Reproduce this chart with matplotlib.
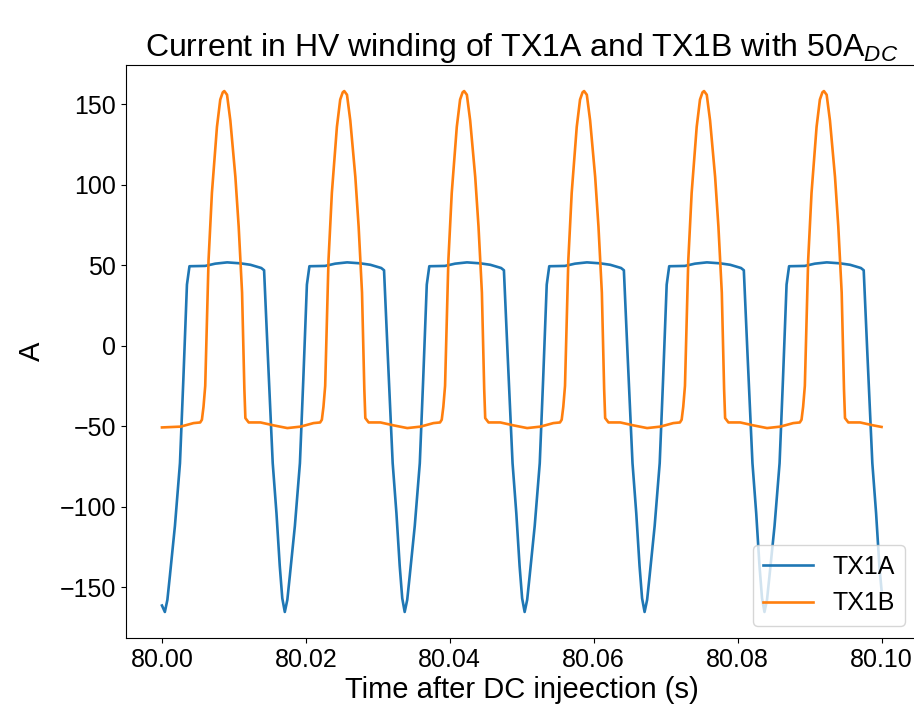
import matplotlib
matplotlib.use("Agg")
import matplotlib.pyplot as plt
import numpy as np

plt.rcParams["font.family"] = ["Liberation Sans", "DejaVu Sans"]
plt.rcParams["mathtext.fontset"] = "custom"
plt.rcParams["mathtext.rm"] = "Liberation Sans"
plt.rcParams["mathtext.it"] = "Liberation Sans:italic"

# time after 80 s, in ms
tx1a_ms = [0.00,
           0.40, 0.75, 1.10, 1.80, 2.50, 2.97, 3.19, 3.47, 3.82, 6.00, 7.40,
           9.06, 10.90, 12.30, 13.80, 14.19, 14.70, 15.39, 15.91, 16.37, 16.72,
           17.07, 17.42, 17.77, 18.47, 19.17, 19.64, 19.86, 20.14, 20.49, 22.67,
           24.07, 25.73, 27.57, 28.97, 30.47, 30.86, 31.37, 32.06, 32.58, 33.04,
           33.39,
           33.73, 34.08, 34.43, 35.13, 35.83, 36.30, 36.52, 36.80, 37.15, 39.33,
           40.73, 42.39, 44.23, 45.63, 47.13, 47.52, 48.03, 48.72, 49.24, 49.70,
           50.05,
           50.40, 50.75, 51.10, 51.80, 52.50, 52.97, 53.19, 53.47, 53.82, 56.00,
           57.40, 59.06, 60.90, 62.30, 63.80, 64.19, 64.70, 65.39, 65.91, 66.37,
           66.72,
           67.07, 67.42, 67.77, 68.47, 69.17, 69.64, 69.86, 70.14, 70.49, 72.67,
           74.07, 75.73, 77.57, 78.97, 80.47, 80.86, 81.37, 82.06, 82.58, 83.04,
           83.39,
           83.73, 84.08, 84.43, 85.13, 85.83, 86.30, 86.52, 86.80, 87.15, 89.33,
           90.73, 92.39, 94.23, 95.63, 97.13, 97.52, 98.03, 98.72, 99.24, 99.70,
           100.00]
tx1a_amp = [-161.5,
            -165.5, -158, -143, -112, -73, -21, 5, 38, 49.4, 49.6, 51.0,
            51.8, 51.2, 50.3, 48.3, 46.9, -5, -73, -104, -137, -157,
            -165.5, -158, -143, -112, -73, -21, 5, 38, 49.4, 49.6,
            51.0, 51.8, 51.2, 50.3, 48.3, 46.9, -5, -73, -104, -137,
            -157,
            -165.5, -158, -143, -112, -73, -21, 5, 38, 49.4, 49.6,
            51.0, 51.8, 51.2, 50.3, 48.3, 46.9, -5, -73, -104, -137,
            -157,
            -165.5, -158, -143, -112, -73, -21, 5, 38, 49.4, 49.6,
            51.0, 51.8, 51.2, 50.3, 48.3, 46.9, -5, -73, -104, -137,
            -157,
            -165.5, -158, -143, -112, -73, -21, 5, 38, 49.4, 49.6,
            51.0, 51.8, 51.2, 50.3, 48.3, 46.9, -5, -73, -104, -137,
            -157,
            -165.5, -158, -143, -112, -73, -21, 5, 38, 49.4, 49.6,
            51.0, 51.8, 51.2, 50.3, 48.3, 46.9, -5, -73, -104, -137,
            -152]

tx1b_ms = [0.00, 2.59, 4.39,
           5.31, 5.55, 5.77, 6.01, 6.47, 6.94, 7.64, 8.10, 8.45, 8.66, 9.04,
           9.50, 10.20, 10.66, 11.13, 11.45, 11.59, 12.05, 13.69, 15.50, 17.42,
           19.26, 21.06,
           21.98, 22.22, 22.44, 22.68, 23.14, 23.61, 24.31, 24.77, 25.12, 25.33,
           25.71, 26.17, 26.87, 27.33, 27.80, 28.12, 28.26, 28.72, 30.36, 32.17,
           34.09, 35.93, 37.73,
           38.64, 38.88, 39.10, 39.34, 39.80, 40.27, 40.97, 41.43, 41.78, 41.99,
           42.37, 42.83, 43.53, 43.99, 44.46, 44.78, 44.92, 45.38, 47.02, 48.83,
           50.75, 52.59, 54.39,
           55.31, 55.55, 55.77, 56.01, 56.47, 56.94, 57.64, 58.10, 58.45, 58.66,
           59.04, 59.50, 60.20, 60.66, 61.13, 61.45, 61.59, 62.05, 63.69, 65.50,
           67.42, 69.26, 71.06,
           71.98, 72.22, 72.44, 72.68, 73.14, 73.61, 74.31, 74.77, 75.12, 75.33,
           75.71, 76.17, 76.87, 77.33, 77.80, 78.12, 78.26, 78.72, 80.36, 82.17,
           84.09, 85.93, 87.73,
           88.64, 88.88, 89.10, 89.34, 89.80, 90.27, 90.97, 91.43, 91.78, 91.99,
           92.37, 92.83, 93.53, 93.99, 94.46, 94.78, 94.92, 95.38, 97.02, 98.83,
           100.00]
tx1b_amp = [-50.8, -50.3, -48.1,
            -47.7, -46, -38, -25, 53, 95, 136, 153, 157.5, 158.3, 156,
            140, 105, 74, 33, -27, -45, -47.7, -47.7, -49.5, -51.2,
            -50.3, -48.1,
            -47.7, -46, -38, -25, 53, 95, 136, 153, 157.5, 158.3,
            156, 140, 105, 74, 33, -27, -45, -47.7, -47.7, -49.5,
            -51.2, -50.3, -48.1,
            -47.7, -46, -38, -25, 53, 95, 136, 153, 157.5, 158.3,
            156, 140, 105, 74, 33, -27, -45, -47.7, -47.7, -49.5,
            -51.2, -50.3, -48.1,
            -47.7, -46, -38, -25, 53, 95, 136, 153, 157.5, 158.3,
            156, 140, 105, 74, 33, -27, -45, -47.7, -47.7, -49.5,
            -51.2, -50.3, -48.1,
            -47.7, -46, -38, -25, 53, 95, 136, 153, 157.5, 158.3,
            156, 140, 105, 74, 33, -27, -45, -47.7, -47.7, -49.5,
            -51.2, -50.3, -48.1,
            -47.7, -46, -38, -25, 53, 95, 136, 153, 157.5, 158.3,
            156, 140, 105, 74, 33, -27, -45, -47.7, -47.7, -49.5,
            -50.5]

t_a = 80 + np.array(tx1a_ms) / 1000
t_b = 80 + np.array(tx1b_ms) / 1000

fig = plt.figure(figsize=(9.14, 7.12), dpi=100)
ax = fig.add_axes([126 / 914, 74 / 712, 0.866, 573 / 712])
ax.plot(t_a, tx1a_amp, label="TX1A", lw=1.9)
ax.plot(t_b, tx1b_amp, label="TX1B", lw=1.9)
ax.set_title("Current in HV winding of TX1A and TX1B with 50A$_{DC}$",
             fontsize=23)
ax.set_xlabel("Time after DC injeection (s)", fontsize=21, labelpad=3)
ax.set_ylabel("A", fontsize=21, labelpad=10)
ax.tick_params(labelsize=18)
ax.xaxis.set_major_formatter(matplotlib.ticker.FormatStrFormatter("%.2f"))
ax.legend(loc="lower right", fontsize=18)

fig.savefig("out.png", dpi=100)
